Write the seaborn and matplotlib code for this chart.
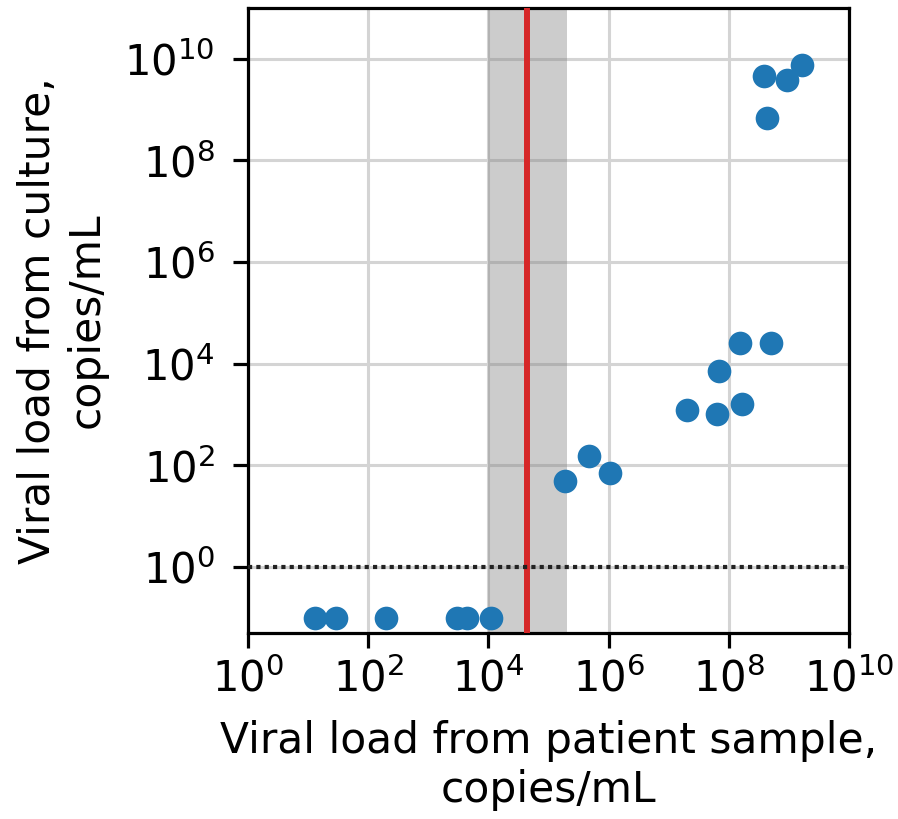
import matplotlib
matplotlib.use("Agg")
import matplotlib.pyplot as plt
import seaborn as sns
import pandas as pd

# Data (copies/mL)
patient_load = [13, 29, 198, 2970, 4350, 10900,
                1.88e5, 4.67e5, 1.05e6,
                2.0e7, 6.87e7, 6.44e7, 1.54e8, 1.64e8, 4.98e8,
                3.85e8, 9.2e8, 1.63e9, 4.27e8]
culture_load = [0.1, 0.1, 0.1, 0.1, 0.1, 0.1,
                49.6, 154, 69,
                1230, 7190, 1010, 2.6e4, 1640, 2.5e4,
                4.63e9, 3.75e9, 7.4e9, 6.8e8]
band_lo, band_hi = 1e4, 2e5
threshold = 4.4e4
detection_limit = 1.0
xticks = [1e0, 1e2, 1e4, 1e6, 1e8, 1e10]
yticks = [1e0, 1e2, 1e4, 1e6, 1e8, 1e10]

df = pd.DataFrame({"patient": patient_load, "culture": culture_load})

sns.set_theme(style="ticks")
plt.rcParams['font.family'] = ['DejaVu Sans']
plt.rcParams['text.color'] = 'black'
plt.rcParams['axes.labelcolor'] = 'black'
plt.rcParams['xtick.color'] = 'black'
plt.rcParams['ytick.color'] = 'black'

fig = plt.figure(figsize=(8.98, 8.19), dpi=100)
ax = fig.add_axes([248/898, 1 - 633/819, (849-248)/898, (633-8)/819])

ax.set_xscale("log")
ax.set_yscale("log")
ax.set_xlim(1, 1e10)
ax.set_ylim(0.05, 1e11)

ax.axvspan(band_lo, band_hi, color="gray", alpha=0.4, lw=0, zorder=1)
ax.set_xticks(xticks)
ax.set_yticks(yticks)
ax.minorticks_off()
ax.grid(True, color="#d4d4d4", lw=2.2, zorder=0)
ax.set_axisbelow(True)

ax.axvline(threshold, color="#d62728", lw=4.3, zorder=3)
ax.axhline(detection_limit, color="#222222", lw=3.0, dashes=(1.0, 1.0), zorder=3)

sns.scatterplot(data=df, x="patient", y="culture", ax=ax, s=290,
                color="#1f77b4", linewidth=0, alpha=1, zorder=4)

for sp in ax.spines.values():
    sp.set_linewidth(2.3)
    sp.set_color("black")
ax.tick_params(axis="both", which="major", labelsize=30, length=11,
               width=2.3, color="black", pad=7, labelcolor="black")
ax.tick_params(axis="y", pad=13)

ax.set_xlabel("Viral load from patient sample,\ncopies/mL", fontsize=30.5,
              labelpad=14, linespacing=1.2, color="black")
ax.set_ylabel("Viral load from culture,\ncopies/mL", fontsize=30.5,
              labelpad=12, linespacing=1.2, color="black")

fig.savefig("out.png", dpi=100)
